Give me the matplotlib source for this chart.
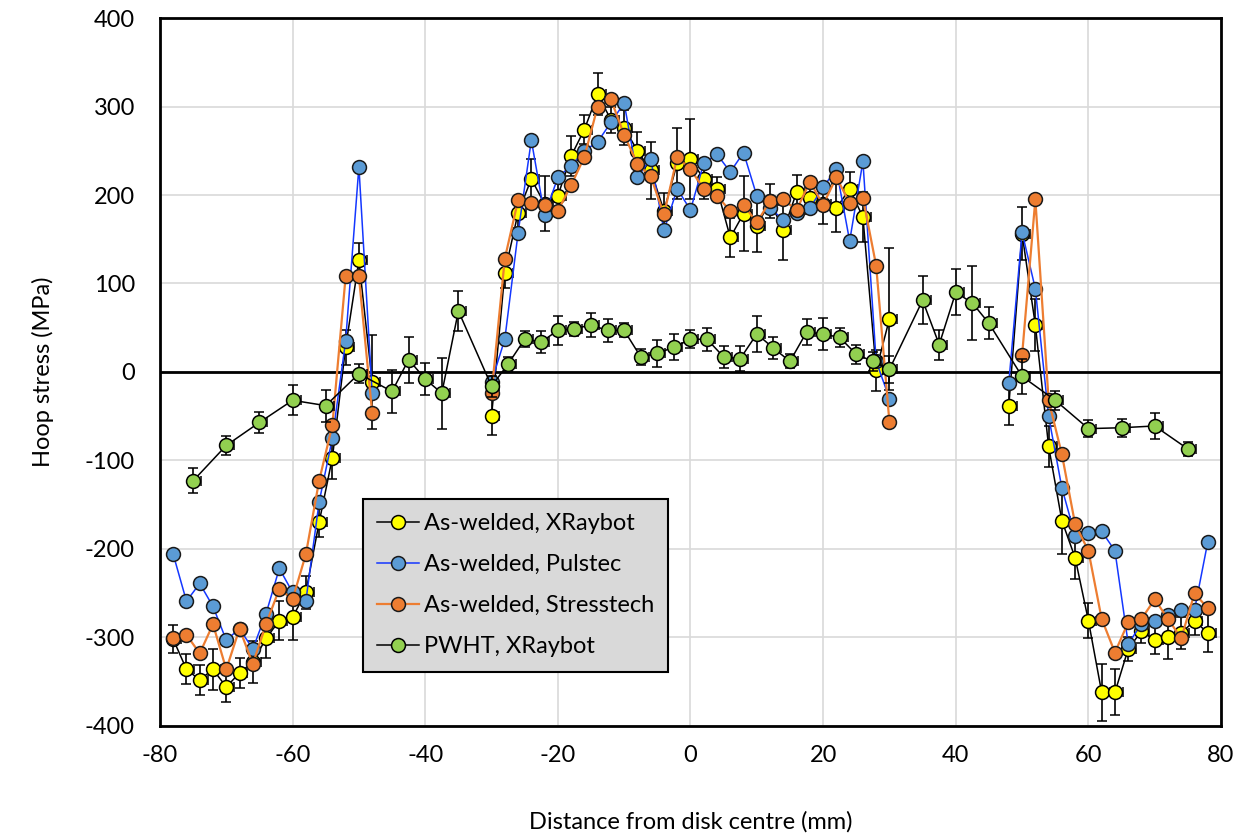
import numpy as np
import matplotlib
matplotlib.use('Agg')
import matplotlib.pyplot as plt
from matplotlib.lines import Line2D

plt.rcParams['font.family'] = ['Lato', 'DejaVu Sans']
plt.rcParams['axes.unicode_minus'] = False

# As-welded measurements, 2 mm steps (nan = no measurement / break in line)
x_aw = np.concatenate([np.arange(-78, -47, 2), [np.nan], np.arange(-30, 31, 2), [np.nan], np.arange(48, 79, 2)])

xraybot = [-302, -336, -348, -336, -356, -340, -328, -301, -281, -277, -249, -170, -97, 28, 126, -11,
           np.nan,
           -50, 112, 180, 218, 190, 199, 244, 274, 314, 285, 276, 250, 228, 182, 236, 241,
           218, 207, 152, 179, 165, 193, 160, 203, 197, 190, 185, 207, 175, 2, 60,
           np.nan,
           -38, 156, 53, -84, -168, -210, -281, -362, -362, -313, -293, -303, -299, -295, -281, -295]
xraybot_err = [16, 17, 17, 23, 17, 17, 24, 22, 22, 26, 19, 17, 24, 20, 20, 53,
               np.nan,
               21, 17, 17, 23, 31, 15, 23, 16, 24, 15, 20, 21, 32, 20, 40, 45,
               23, 13, 22, 42, 29, 19, 33, 20, 19, 23, 27, 19, 28, 23, 80,
               np.nan,
               22, 30, 29, 23, 38, 24, 20, 32, 26, 14, 13, 16, 25, 18, 16, 21]

pulstec = [-206, -259, -239, -265, -303, -290, -313, -273, -222, -249, -259, -147, -75, 35, 232, -24,
           np.nan,
           -11, 37, 157, 262, 177, 220, 233, 250, 260, 282, 304, 220, 241, 160, 207, 183,
           236, 246, 226, 248, 199, 185, 172, 180, 185, 209, 229, 148, 238, 12, -30,
           np.nan,
           -12, 158, 94, -50, -131, -185, -182, -180, -202, -307, -285, -281, -275, -269, -269, -192]

stresstech = [-301, -297, -318, -285, -336, -290, -330, -285, -245, -257, -206, -123, -60, 108, 108, -46,
              np.nan,
              -24, 128, 194, 191, 189, 182, 211, 243, 300, 308, 268, 235, 221, 178, 243, 229,
              207, 199, 182, 189, 169, 193, 195, 183, 215, 189, 220, 191, 197, 120, -57,
              np.nan,
              np.nan, 19, 195, -32, -93, -172, -202, -279, -317, -283, -279, -257, -279, -301, -250, -267]

# PWHT measurements
x_pwht = [-75, -70, -65, -60, -55, -50, -45, -42.5, -40, -37.5, -35,
          -30, -27.5, -25, -22.5, -20, -17.5, -15, -12.5, -10, -7.5, -5, -2.5, 0,
          2.5, 5, 7.5, 10, 12.5, 15, 17.5, 20, 22.5, 25, 27.5, 30,
          35, 37.5, 40, 42.5, 45, 50, 55, 60, 65, 70, 75]
pwht = [-123, -83, -57, -32, -38, -2, -22, 14, -8, -24, 69,
        -16, 9, 37, 34, 47, 49, 53, 47, 47, 17, 21, 28, 37,
        37, 17, 15, 43, 27, 12, 45, 43, 39, 20, 12, 3,
        81, 31, 90, 78, 55, -5, -32, -64, -63, -61, -87]
pwht_err = [14, 11, 12, 17, 18, 11, 24, 26, 18, 40, 23,
            12, 8, 9, 12, 16, 8, 14, 13, 8, 9, 15, 15, 10,
            13, 12, 14, 20, 12, 8, 15, 18, 11, 11, 11, 15,
            27, 17, 26, 42, 18, 20, 11, 10, 10, 15, 8]

pos_err = 1.2  # position uncertainty (mm), plus side only

fig = plt.figure(figsize=(12.37, 8.38), dpi=100)
ax = fig.add_axes([0.1293, 0.1337, 0.8578, 0.8448])

ms = 10
styles = {
    'As-welded, XRaybot': dict(color='black', lw=1.1, mfc='#ffff00', mec='black'),
    'As-welded, Pulstec': dict(color='#1437ff', lw=1.1, mfc='#5b9bd5', mec='#1a1a1a'),
    'As-welded, Stresstech': dict(color='#ed7d31', lw=1.6, mfc='#ed7d31', mec='#1a1a1a'),
    'PWHT, XRaybot': dict(color='black', lw=1.1, mfc='#92d050', mec='black'),
}

ax.errorbar(x_aw, xraybot, yerr=xraybot_err,
            xerr=[np.zeros(len(x_aw)), np.full(len(x_aw), pos_err)],
            elinewidth=1.2, ecolor='black', capsize=3.5, marker='o', ms=ms, mew=1.1,
            zorder=3, **styles['As-welded, XRaybot'])
ax.plot(x_aw, pulstec, marker='o', ms=ms, mew=1.1, zorder=4, **styles['As-welded, Pulstec'])
ax.plot(x_aw, stresstech, marker='o', ms=ms, mew=1.1, zorder=5, **styles['As-welded, Stresstech'])
ax.errorbar(x_pwht, pwht, yerr=pwht_err,
            xerr=[np.zeros(len(x_pwht)), np.full(len(x_pwht), pos_err)],
            elinewidth=1.2, ecolor='black', capsize=3.5, marker='o', ms=ms, mew=1.1,
            zorder=6, **styles['PWHT, XRaybot'])

ax.axhline(0, color='black', lw=2, zorder=2)

ax.set_xlim(-80, 80)
ax.set_ylim(-400, 400)
ax.set_xticks(np.arange(-80, 81, 20))
ax.set_yticks(np.arange(-400, 401, 100))
ax.grid(True, color='#d9d9d9', lw=1.2, zorder=0)
ax.set_axisbelow(True)
ax.tick_params(length=0, labelsize=17)
ax.tick_params(axis='x', pad=14)
ax.tick_params(axis='y', pad=18)
for s in ax.spines.values():
    s.set_linewidth(2)
    s.set_color('black')

ax.set_xlabel('Distance from disk centre (mm)', fontsize=17, labelpad=32)
ax.set_ylabel('Hoop stress (MPa)', fontsize=17, labelpad=22)

# legend with plain marker+line handles
handles = [Line2D([], [], marker='o', ms=ms, mew=1.1, **st) for st in styles.values()]
leg = ax.legend(handles, list(styles.keys()), loc='upper left',
                bbox_to_anchor=(0.191, 0.3206), borderaxespad=0,
                fontsize=17, frameon=True, fancybox=False, framealpha=1,
                facecolor='#d9d9d9', edgecolor='black', labelspacing=0.85,
                handlelength=1.8, handletextpad=0.2, borderpad=0.6)
leg.get_frame().set_linewidth(1.5)

fig.savefig('out.png', dpi=100)
